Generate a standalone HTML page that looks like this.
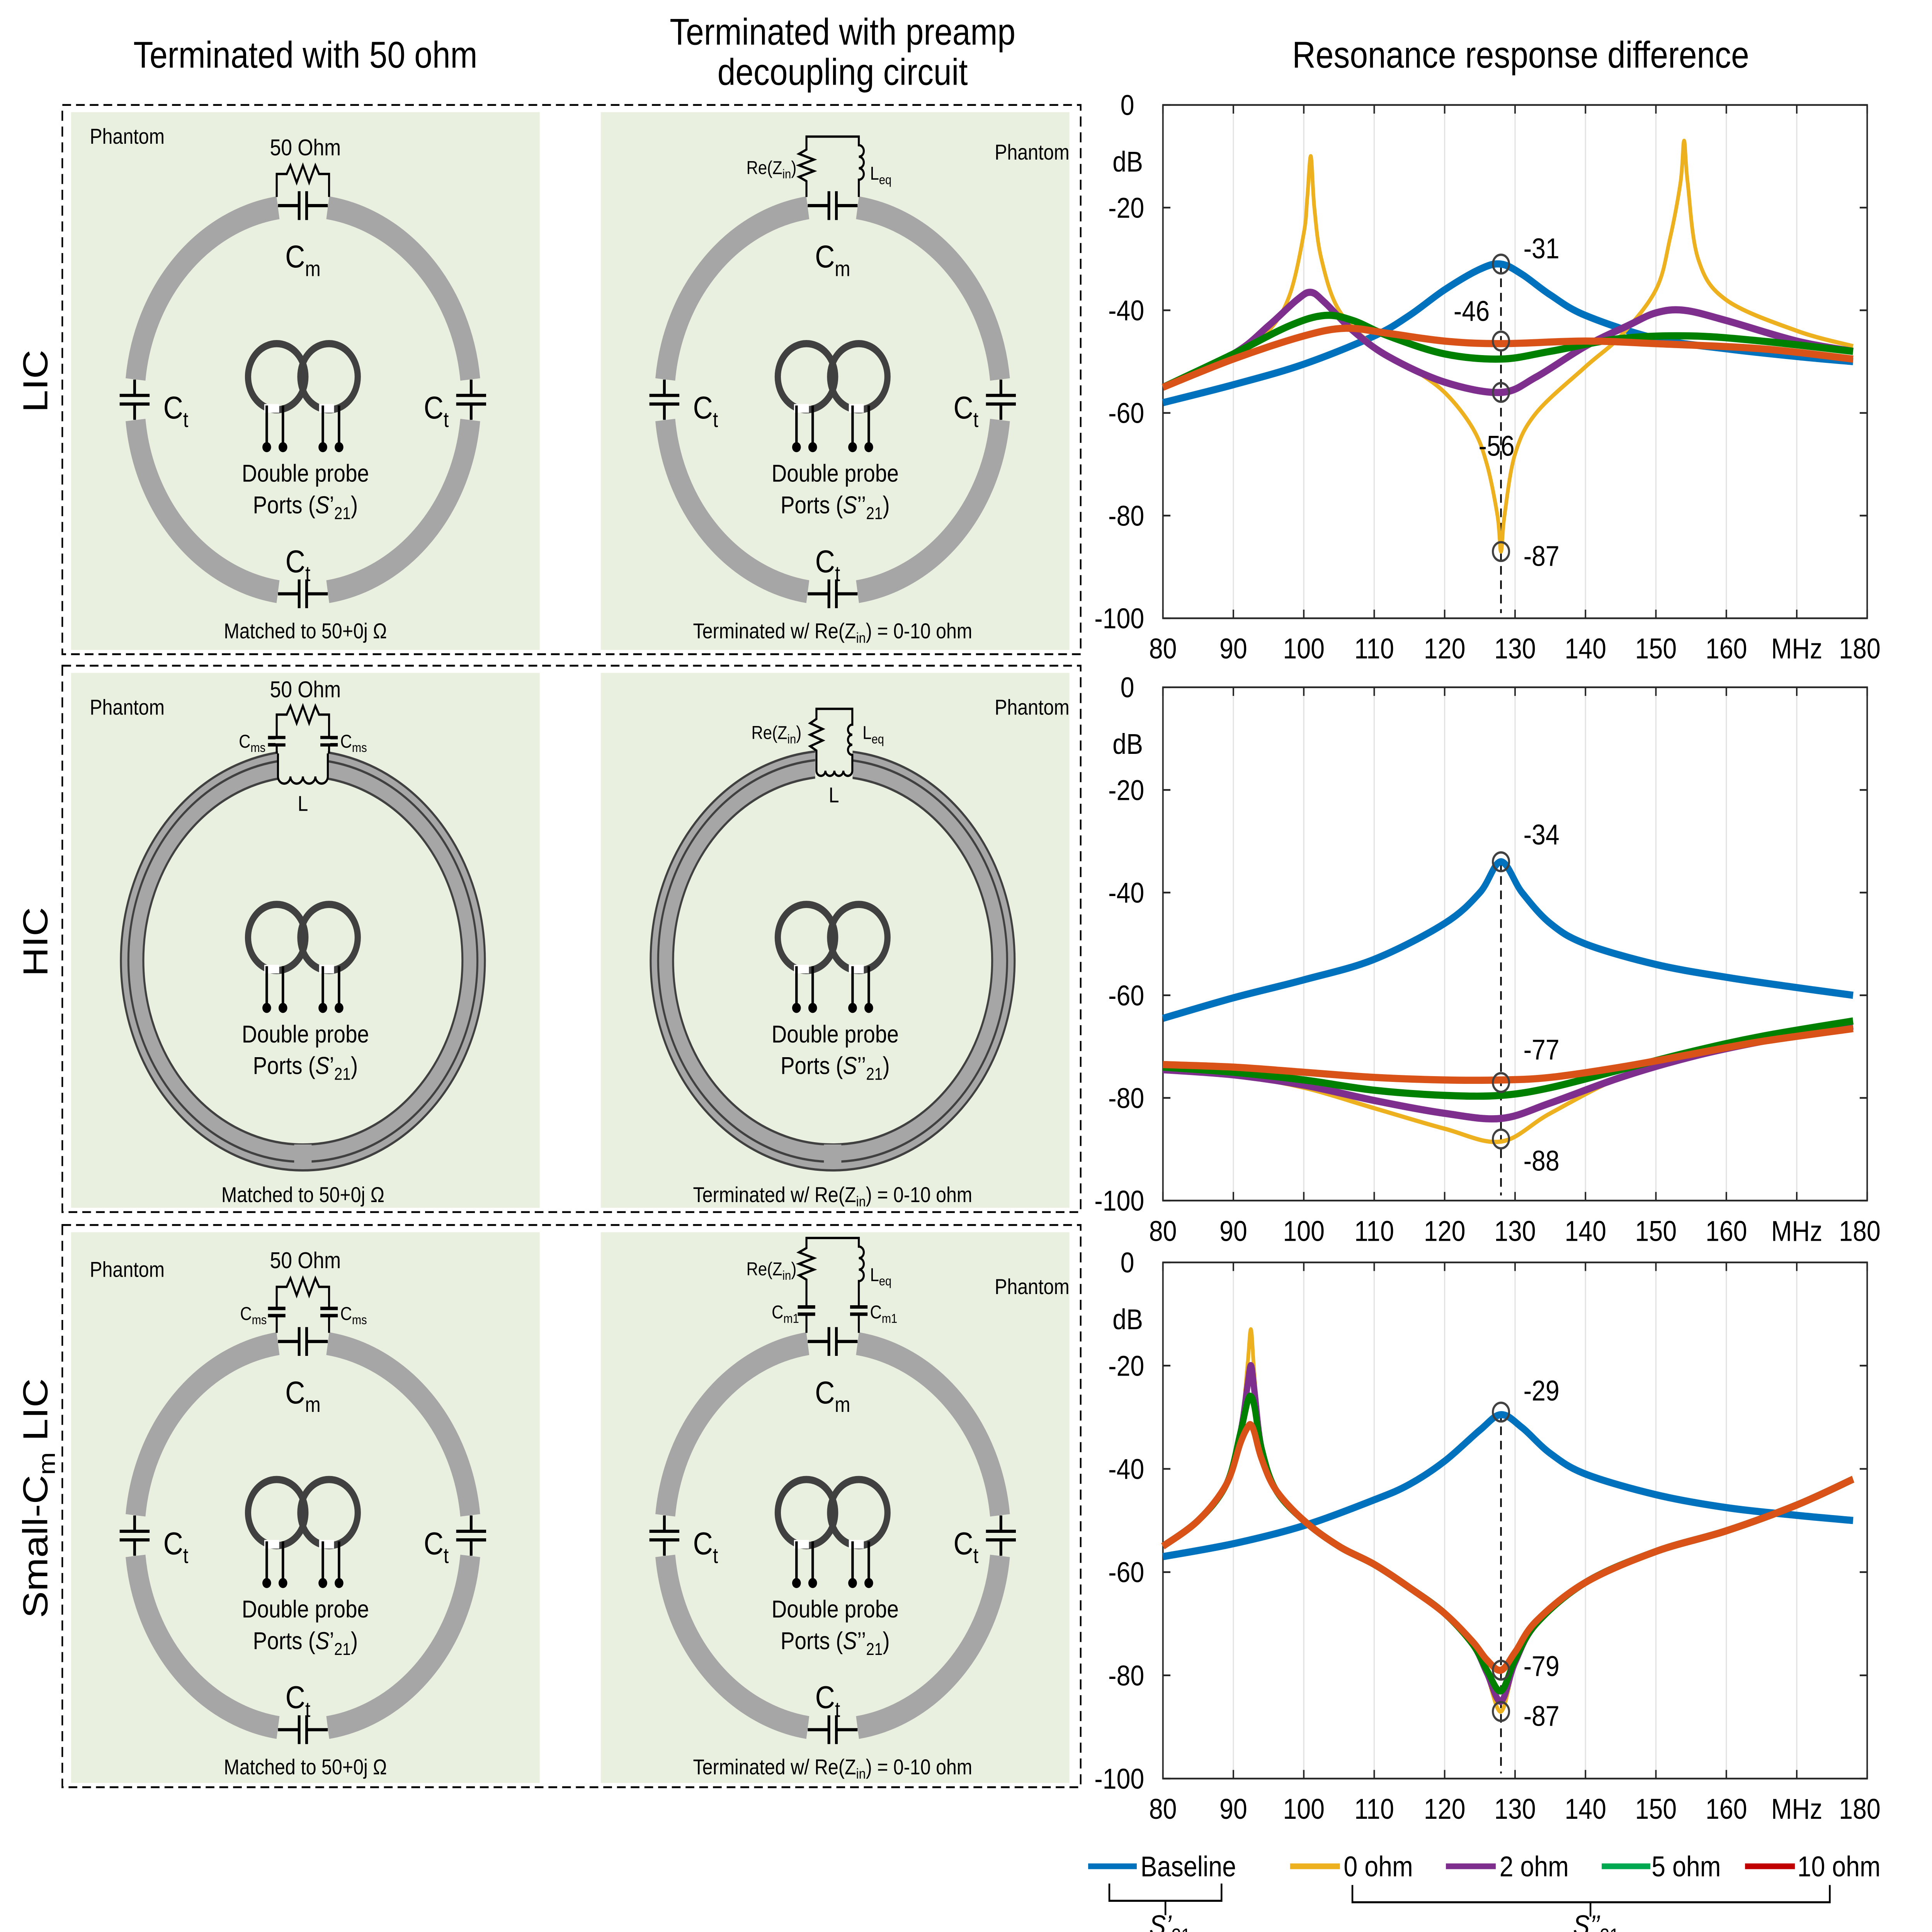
<!DOCTYPE html>
<html><head><meta charset="utf-8"><style>
html,body{margin:0;padding:0;background:#fff;width:100%;height:100%;overflow:hidden}
svg{display:block;width:100vw;height:100vh}
text{font-family:"Liberation Sans",Arial,sans-serif;fill:#000}
</style></head><body>
<svg id="fig" xmlns="http://www.w3.org/2000/svg" viewBox="0 0 1550 1343.7" preserveAspectRatio="none">
<rect x="0" y="0" width="1550" height="1344" fill="#fff"/>
<text x="245" y="47" font-size="26" text-anchor="middle">Terminated with 50 ohm</text>
<text x="676" y="31" font-size="26" text-anchor="middle">Terminated with preamp</text>
<text x="676" y="59" font-size="26" text-anchor="middle">decoupling circuit</text>
<text x="1220" y="47" font-size="26" text-anchor="middle">Resonance response difference</text>
<text transform="translate(38,265) rotate(-90)" font-size="28" text-anchor="middle">LIC</text>
<text transform="translate(38,655) rotate(-90)" font-size="28" text-anchor="middle">HIC</text>
<text transform="translate(38,1042) rotate(-90)" font-size="28" text-anchor="middle">Small-C<tspan font-size="19" dy="6">m</tspan><tspan dy="-6"> LIC</tspan></text>

<g fill="none" stroke="#000" stroke-width="1.3" stroke-dasharray="7,4">
<rect x="50" y="73" width="817" height="382"/>
<rect x="50" y="463" width="817" height="380"/>
<rect x="50" y="852" width="817" height="391"/>
</g>
<g fill="#eaf0df">
<rect x="57" y="78" width="376" height="374"/>
<rect x="482" y="78" width="376" height="374"/>
<rect x="57" y="468" width="376" height="372"/>
<rect x="482" y="468" width="376" height="372"/>
<rect x="57" y="857" width="376" height="383"/>
<rect x="482" y="857" width="376" height="383"/>
</g>
<g font-size="15">
<text x="72" y="100">Phantom</text>
<text x="858" y="111" text-anchor="end">Phantom</text>
<text x="72" y="497">Phantom</text>
<text x="858" y="497" text-anchor="end">Phantom</text>
<text x="72" y="888">Phantom</text>
<text x="858" y="900" text-anchor="end">Phantom</text>
<text x="245" y="444" text-anchor="middle">Matched to 50+0j Ω</text>
<text x="668" y="444" text-anchor="middle">Terminated w/ Re(Z<tspan font-size="10" dy="3">in</tspan><tspan dy="-3">) = 0-10 ohm</tspan></text>
<text x="243" y="836" text-anchor="middle">Matched to 50+0j Ω</text>
<text x="668" y="836" text-anchor="middle">Terminated w/ Re(Z<tspan font-size="10" dy="3">in</tspan><tspan dy="-3">) = 0-10 ohm</tspan></text>
<text x="245" y="1234" text-anchor="middle">Matched to 50+0j Ω</text>
<text x="668" y="1234" text-anchor="middle">Terminated w/ Re(Z<tspan font-size="10" dy="3">in</tspan><tspan dy="-3">) = 0-10 ohm</tspan></text>
</g>

<g id="licring" transform="translate(243,278)">
 <g fill="none" stroke="#a6a6a6" stroke-width="16">
  <path d="M19.95 -133.5 A135 135 0 0 1 134.26 -14.11"/>
  <path d="M134.26 14.11 A135 135 0 0 1 19.95 133.5"/>
  <path d="M-19.95 133.5 A135 135 0 0 1 -134.26 14.11"/>
  <path d="M-134.26 -14.11 A135 135 0 0 1 -19.95 -133.5"/>
 </g>
 <g stroke="#000" stroke-width="2.2" fill="none">
  <path d="M-20 -135H-3M3 -135H20M-3 -145V-125M3 -145V-125"/>
  <path d="M-20 135H-3M3 135H20M-3 125V145M3 125V145"/>
  <path d="M-135 -14V-3M-135 3V14M-147 -3H-123M-147 3H-123"/>
  <path d="M135 -14V-3M135 3V14M147 -3H123M147 3H123"/>
 </g>
 <text x="0" y="-92" font-size="22" text-anchor="middle">C<tspan font-size="15" dy="6">m</tspan></text>
 <text x="-112" y="13" font-size="22">C<tspan font-size="15" dy="6">t</tspan></text>
 <text x="117" y="13" font-size="22" text-anchor="end">C<tspan font-size="15" dy="6">t</tspan></text>
 <text x="-4" y="120" font-size="22" text-anchor="middle">C<tspan font-size="15" dy="6">t</tspan></text>
</g>
<g id="probe" transform="translate(243,278)">
 <circle cx="-21" cy="-16" r="23" fill="none" stroke="#404040" stroke-width="5"/>
 <circle cx="21" cy="-16" r="23" fill="none" stroke="#404040" stroke-width="5"/>
 <rect x="-31" y="3" width="12" height="6" fill="#fff"/>
 <rect x="13" y="3" width="12" height="6" fill="#fff"/>
 <path d="M-29 4V32M-16 4V32M16 4V32M29 4V32" stroke="#000" stroke-width="2"/>
 <g fill="#000"><circle cx="-29" cy="33" r="3.5"/><circle cx="-16" cy="33" r="3.5"/><circle cx="16" cy="33" r="3.5"/><circle cx="29" cy="33" r="3.5"/></g>
 <text x="2" y="57" font-size="17" text-anchor="middle">Double probe</text>
 <text class="ports" x="2" y="79" font-size="17" text-anchor="middle">Ports (<tspan font-style="italic">S</tspan>’<tspan font-size="12" dy="4">21</tspan><tspan dy="-4">)</tspan></text>
</g>
<g id="hicring" transform="translate(243,668)">
 <circle r="137" fill="none" stroke="#a6a6a6" stroke-width="18"/>
 <circle r="146" fill="none" stroke="#404040" stroke-width="1.6"/>
 <circle r="140" fill="none" stroke="#404040" stroke-width="1.6"/>
 <circle r="128" fill="none" stroke="#404040" stroke-width="1.6"/>
 <rect x="-7" y="128" width="14" height="13" fill="#a6a6a6"/>
</g>

<g transform="translate(243,278)">
 <path d="M-21 -141V-157H-13L-10 -163L-5 -151L0 -163L5 -151L10 -163L13 -157H21V-141" fill="none" stroke="#000" stroke-width="1.6"/>
 <text x="2" y="-170" font-size="16" text-anchor="middle">50 Ohm</text>
</g>
<g transform="translate(668,278)">
 <path d="M-21 -141V-152L-27 -155L-15 -159L-27 -163L-15 -167L-27 -171L-21 -174V-183H21V-177a4 4 0 0 1 0 8a4 4 0 0 1 0 8a4 4 0 0 1 0 8V-141" fill="none" stroke="#000" stroke-width="1.6"/>
 <text x="-29" y="-157" font-size="13" text-anchor="end">Re(Z<tspan font-size="9" dy="3">in</tspan><tspan dy="-3">)</tspan></text>
 <text x="30" y="-153" font-size="13">L<tspan font-size="9" dy="3">eq</tspan></text>
</g>
<g transform="translate(243,668)">
 <rect x="-20" y="-150" width="40" height="26" fill="#eaf0df"/>
 <path d="M-20 -128a5 5 0 0 0 10 0a5 5 0 0 0 10 0a5 5 0 0 0 10 0a5 5 0 0 0 10 0M-20 -128V-144M20 -128V-144M-21 -144V-171H-13L-10 -177L-5 -165L0 -177L5 -165L10 -177L13 -171H21V-144" fill="none" stroke="#000" stroke-width="1.6"/>
 <path d="M-28 -155H-14M-28 -150H-14M14 -155H28M14 -150H28" stroke="#000" stroke-width="2.4"/>
 <rect x="-22" y="-154" width="44" height="3" fill="#eaf0df"/>
 <text x="2" y="-183" font-size="16" text-anchor="middle">50 Ohm</text>
 <text x="-30" y="-148" font-size="13" text-anchor="end">C<tspan font-size="9" dy="3">ms</tspan></text>
 <text x="30" y="-148" font-size="13">C<tspan font-size="9" dy="3">ms</tspan></text>
 <text x="0" y="-104" font-size="15" text-anchor="middle">L</text>
</g>
<g transform="translate(668,668)">
 <rect x="-14" y="-150" width="30" height="24" fill="#eaf0df"/>
 <path d="M-13 -132a3.6 3.6 0 0 0 7.2 0a3.6 3.6 0 0 0 7.2 0a3.6 3.6 0 0 0 7.2 0a3.6 3.6 0 0 0 7.2 0V-143a3.5 3.5 0 0 1 0 -7a3.5 3.5 0 0 1 0 -7a3.5 3.5 0 0 1 0 -7V-175H-13V-168L-18 -165L-8 -161L-18 -157L-8 -153L-18 -149L-13 -146V-132" fill="none" stroke="#000" stroke-width="1.6"/>
 <text x="-25" y="-154" font-size="13" text-anchor="end">Re(Z<tspan font-size="9" dy="3">in</tspan><tspan dy="-3">)</tspan></text>
 <text x="24" y="-154" font-size="13">L<tspan font-size="9" dy="3">eq</tspan></text>
 <text x="1" y="-110" font-size="15" text-anchor="middle">L</text>
</g>
<g transform="translate(243,1068)">
 <path d="M-21 -141V-173H-13L-10 -179L-5 -167L0 -179L5 -167L10 -179L13 -173H21V-141" fill="none" stroke="#000" stroke-width="1.6"/>
 <rect x="-24" y="-157" width="48" height="4" fill="#eaf0df"/>
 <path d="M-28 -158H-14M-28 -153H-14M14 -158H28M14 -153H28" stroke="#000" stroke-width="2.4"/>
 <text x="2" y="-186" font-size="16" text-anchor="middle">50 Ohm</text>
 <text x="-29" y="-150" font-size="13" text-anchor="end">C<tspan font-size="9" dy="3">ms</tspan></text>
 <text x="30" y="-150" font-size="13">C<tspan font-size="9" dy="3">ms</tspan></text>
</g>
<g transform="translate(668,1068)">
 <path d="M-21 -141V-178L-27 -181L-15 -185L-27 -189L-15 -193L-27 -197L-21 -200V-207H21V-201a4 4 0 0 1 0 8a4 4 0 0 1 0 8a4 4 0 0 1 0 8V-141" fill="none" stroke="#000" stroke-width="1.6"/>
 <rect x="-24" y="-158" width="48" height="4" fill="#eaf0df"/>
 <path d="M-28 -159H-14M-28 -154H-14M14 -159H28M14 -154H28" stroke="#000" stroke-width="2.4"/>
 <text x="-29" y="-181" font-size="13" text-anchor="end">Re(Z<tspan font-size="9" dy="3">in</tspan><tspan dy="-3">)</tspan></text>
 <text x="30" y="-177" font-size="13">L<tspan font-size="9" dy="3">eq</tspan></text>
 <text x="-27" y="-151" font-size="13" text-anchor="end">C<tspan font-size="9" dy="3">m1</tspan></text>
 <text x="30" y="-151" font-size="13">C<tspan font-size="9" dy="3">m1</tspan></text>
</g>

<g id="charts"></g>

<g font-size="20">
 <line x1="873" y1="1298" x2="912" y2="1298" stroke="#0072BD" stroke-width="4"/>
 <text x="915" y="1305">Baseline</text>
 <line x1="1035" y1="1298" x2="1075" y2="1298" stroke="#EDB120" stroke-width="4"/>
 <text x="1078" y="1305">0 ohm</text>
 <line x1="1160" y1="1298" x2="1200" y2="1298" stroke="#7E2F8E" stroke-width="4"/>
 <text x="1203" y="1305">2 ohm</text>
 <line x1="1285" y1="1298" x2="1324" y2="1298" stroke="#00A84F" stroke-width="4"/>
 <text x="1325" y="1305">5 ohm</text>
 <line x1="1400" y1="1298" x2="1440" y2="1298" stroke="#C00000" stroke-width="4"/>
 <text x="1442" y="1305">10 ohm</text>
 <path d="M890 1310V1322H980V1310M935 1322V1332" fill="none" stroke="#000" stroke-width="1.4"/>
 <path d="M1085 1311V1323H1468V1311M1276 1323V1333" fill="none" stroke="#000" stroke-width="1.4"/>
 <text x="922" y="1346" font-style="italic">S’<tspan font-style="normal" font-size="14" dy="5">21</tspan></text>
 <text x="1262" y="1346" font-style="italic">S’’<tspan font-style="normal" font-size="14" dy="5">21</tspan></text>
</g>
</svg>
<script>
// ---------- chart data ----------
const xTicks = [80, 90, 100, 110, 120, 130, 140, 150, 160, 170, 180];
const xTickLabels = ['80', '90', '100', '110', '120', '130', '140', '150', '160', 'MHz', '180'];
const yTicks = [0, -20, -40, -60, -80, -100];
const yTickLabels = ['0', '-20', '-40', '-60', '-80', '-100'];
const seriesNames = ['Baseline', '0 ohm', '2 ohm', '5 ohm', '10 ohm'];
const markerFreq = 128;

// Chart 1 (LIC)
const c1BaseF = [80, 90, 100, 110, 115, 120, 125, 128, 131, 135, 140, 150, 160, 170, 178];
const c1BaseV = [-58, -54.5, -50.5, -45, -41, -36, -32, -31, -33, -37, -41, -45.5, -47.5, -49, -50];
const c1Z0F = [80, 90, 95, 98, 100, 100.5, 101, 101.5, 102.5, 105, 110, 115, 120, 124, 126, 127.5, 128, 128.5, 130, 133, 140, 145, 150, 152, 153.5, 154, 154.5, 156, 160, 170, 178];
const c1Z0V = [-55, -49, -44, -37, -25, -18, -10, -20, -30, -40, -47, -51, -56, -63, -70, -80, -87, -80, -68, -60, -51, -45, -36, -26, -15, -7, -15, -30, -38, -44, -47];
const c1Z2F = [80, 90, 95, 99, 101, 103, 107, 112, 120, 128, 133, 140, 146, 150, 154, 160, 170, 178];
const c1Z2V = [-55, -48.5, -43, -38, -36.5, -38.5, -44, -49, -54, -56, -53, -47, -43, -40.5, -40, -42, -46, -48];
const c1Z5F = [80, 90, 98, 103, 107, 112, 120, 128, 135, 145, 155, 165, 178];
const c1Z5V = [-55, -48.5, -43, -41, -42, -45, -48.5, -49.5, -48, -45.5, -45, -46, -48];
const c1Z10F = [80, 90, 100, 106, 112, 120, 128, 140, 150, 165, 178];
const c1Z10V = [-55, -49.5, -45, -43.5, -44.5, -46, -46.5, -46, -46.5, -47.5, -49.5];
const c1Markers = [-31, -46, -56, -87];

// Chart 2 (HIC)
const c2BaseF = [80, 90, 100, 110, 120, 125, 128, 131, 135, 140, 150, 160, 170, 178];
const c2BaseV = [-64.5, -60.5, -57, -53, -46, -40, -34, -40, -46, -50, -54, -56.5, -58.5, -60];
const c2Z0F = [80, 90, 100, 110, 120, 128, 135, 145, 155, 165, 178];
const c2Z0V = [-74.5, -75.5, -78, -82, -86, -88.5, -83, -76, -72, -69, -66];
const c2Z2F = [80, 90, 100, 110, 120, 128, 135, 145, 155, 165, 178];
const c2Z2V = [-74.5, -75.5, -77.5, -80.5, -83, -84, -81, -76, -72, -69, -66];
const c2Z5F = [80, 90, 100, 110, 120, 128, 135, 145, 155, 165, 178];
const c2Z5V = [-74, -75, -76.5, -78.5, -79.5, -79.5, -78, -74.5, -71, -68, -65];
const c2Z10F = [80, 90, 100, 110, 120, 128, 135, 145, 155, 165, 178];
const c2Z10V = [-73.5, -74, -75, -76, -76.5, -76.5, -76, -74, -71.5, -69, -66.5];
const c2Markers = [-34, -77, -88];

// Chart 3 (Small-Cm LIC)
const c3BaseF = [80, 90, 100, 110, 115, 120, 125, 128, 131, 135, 140, 150, 160, 170, 178];
const c3BaseV = [-57, -54.5, -51, -46, -43, -38.5, -32.5, -29.5, -32, -37, -41, -45, -47.5, -49, -50];
const c3Z0F = [80, 85, 89, 91, 92, 92.5, 93, 94, 96, 100, 105, 110, 115, 120, 124, 126, 128, 130, 133, 140, 150, 160, 170, 178];
const c3Z0V = [-55, -50, -43, -33, -20, -13, -22, -36, -44, -50, -55, -58.5, -63, -68, -74, -80, -87, -78, -70, -62, -56, -52, -47, -42];
const c3Z2V = [-55, -50, -43, -33, -24, -20, -25, -36, -44, -50, -55, -58.5, -63, -68, -74, -79.5, -85, -77.5, -70, -62, -56, -52, -47, -42];
const c3Z5V = [-55, -50, -43, -33, -27, -26, -28, -36, -44, -50, -55, -58.5, -63, -68, -74, -79, -83, -77, -70, -62, -56, -52, -47, -42];
const c3Z10V = [-55, -50, -43, -35, -32, -31.5, -33, -38, -44, -50, -55, -58.5, -63, -68, -73.5, -77, -79, -75.5, -69.5, -62, -56, -52, -47, -42];
const c3Markers = [-29, -79, -87];

// ---------- styles / layout (not data) ----------
const colors = ['#0072BD', '#EDB120', '#7E2F8E', '#008000', '#D95319'];
const widths = [5, 3, 5, 5, 5];
const plotX0 = 933, plotX1 = 1498;
const chartTops = [73, 478, 878];
const chartBottoms = [430, 835, 1237];
const labelOffsets = [
  [[18, -4], [-38, -14], [-18, 44], [18, 10]],
  [[18, -12], [18, -16], [18, 22]],
  [[18, -8], [18, 4], [18, 10]]
];

const NS = 'http://www.w3.org/2000/svg';
const root = document.getElementById('charts');
function xs(f) { return plotX0 + (f - 80) / 100 * (plotX1 - plotX0); }
function mk(tag, parent) { const e = document.createElementNS(NS, tag); parent.appendChild(e); return e; }
// smooth path through points (Catmull-Rom, tension 0.5 reduced)
function smoothPath(pts) {
  let d = 'M' + pts[0][0].toFixed(2) + ' ' + pts[0][1].toFixed(2);
  for (let i = 0; i < pts.length - 1; i++) {
    const p0 = pts[Math.max(0, i - 1)], p1 = pts[i], p2 = pts[i + 1], p3 = pts[Math.min(pts.length - 1, i + 2)];
    const k = 6;
    let c1x = p1[0] + (p2[0] - p0[0]) / k, c1y = p1[1] + (p2[1] - p0[1]) / k;
    let c2x = p2[0] - (p3[0] - p1[0]) / k, c2y = p2[1] - (p3[1] - p1[1]) / k;
    c1x = Math.min(Math.max(c1x, p1[0]), p2[0]); c2x = Math.min(Math.max(c2x, p1[0]), p2[0]);
    d += 'C' + c1x.toFixed(2) + ' ' + c1y.toFixed(2) + ' ' + c2x.toFixed(2) + ' ' + c2y.toFixed(2) + ' ' + p2[0].toFixed(2) + ' ' + p2[1].toFixed(2);
  }
  return d;
}

function drawChart(ci, series, markers) {
  const top = chartTops[ci], bot = chartBottoms[ci];
  const ys = v => top + (0 - v) / 100 * (bot - top);
  const g = mk('g', root);
  
  
  xTicks.forEach((t, i) => {
    if (i === 0 || i === xTicks.length - 1) return;
    const l = mk('line', g);
    
    
    l.setAttribute('x1', xs(t)); l.setAttribute('x2', xs(t));
    l.setAttribute('y1', top); l.setAttribute('y2', bot);
    l.setAttribute('stroke', '#e3e3e3'); l.setAttribute('stroke-width', '1');
  });
  const box = mk('rect', g);
  
  
  box.setAttribute('x', plotX0); box.setAttribute('y', top);
  box.setAttribute('width', plotX1 - plotX0); box.setAttribute('height', bot - top);
  box.setAttribute('fill', 'none'); box.setAttribute('stroke', '#262626'); box.setAttribute('stroke-width', '1.2');
  xTicks.forEach((t, i) => {
    const tk = mk('path', g);
    
    
    tk.setAttribute('d', 'M' + xs(t) + ' ' + bot + 'v-6M' + xs(t) + ' ' + top + 'v6');
    tk.setAttribute('stroke', '#262626'); tk.setAttribute('stroke-width', '1.2');
    const tx = mk('text', g);
    
    
    tx.setAttribute('x', xs(t) + (i === xTicks.length - 1 ? -6 : 0)); tx.setAttribute('y', bot + 28);
    tx.setAttribute('font-size', '20'); tx.setAttribute('text-anchor', 'middle');
    tx.textContent = xTickLabels[i];
  });
  yTicks.forEach((t, i) => {
    const tk = mk('path', g);
    
    
    tk.setAttribute('d', 'M' + plotX0 + ' ' + ys(t) + 'h6M' + plotX1 + ' ' + ys(t) + 'h-6');
    tk.setAttribute('stroke', '#262626'); tk.setAttribute('stroke-width', '1.2');
    const tx = mk('text', g);
    
    
    tx.setAttribute('x', i === 0 ? 910 : 918); tx.setAttribute('y', ys(t) + 7);
    tx.setAttribute('font-size', '20'); tx.setAttribute('text-anchor', 'end');
    tx.textContent = yTickLabels[i];
  });
  const ut = mk('text', g);
  
  
  ut.setAttribute('x', 917); ut.setAttribute('y', ys(-11) + 7);
  ut.setAttribute('font-size', '20'); ut.setAttribute('text-anchor', 'end');
  ut.textContent = 'dB';
  const mx = xs(markerFreq);
  const dl = mk('line', g);
  
  
  dl.setAttribute('x1', mx); dl.setAttribute('x2', mx);
  dl.setAttribute('y1', ys(Math.max.apply(null, markers))); dl.setAttribute('y2', ys(-99));
  dl.setAttribute('stroke', '#000'); dl.setAttribute('stroke-width', '1.3'); dl.setAttribute('stroke-dasharray', '6,4');
  series.forEach((s, k) => {
    const pts = s[0].map((f, j) => [xs(f), ys(s[1][j])]);
    const p = mk('path', g);
    
    
    p.setAttribute('d', smoothPath(pts)); p.setAttribute('fill', 'none');
    p.setAttribute('stroke', colors[k]); p.setAttribute('stroke-width', widths[k]);
    p.setAttribute('stroke-linejoin', 'round');
  });
  markers.forEach((v, k) => {
    const c = mk('circle', g);
    
    
    c.setAttribute('cx', mx); c.setAttribute('cy', ys(v)); c.setAttribute('r', '6.5');
    c.setAttribute('fill', 'none'); c.setAttribute('stroke', '#404040'); c.setAttribute('stroke-width', '1.6');
    const t = mk('text', g);
    
    
    t.setAttribute('x', mx + labelOffsets[ci][k][0]); t.setAttribute('y', ys(v) + labelOffsets[ci][k][1]);
    t.setAttribute('font-size', '20');
    t.textContent = String(v);
  });
}
drawChart(0, [[c1BaseF, c1BaseV], [c1Z0F, c1Z0V], [c1Z2F, c1Z2V], [c1Z5F, c1Z5V], [c1Z10F, c1Z10V]], c1Markers);
drawChart(1, [[c2BaseF, c2BaseV], [c2Z0F, c2Z0V], [c2Z2F, c2Z2V], [c2Z5F, c2Z5V], [c2Z10F, c2Z10V]], c2Markers);
drawChart(2, [[c3BaseF, c3BaseV], [c3Z0F, c3Z0V], [c3Z0F, c3Z2V], [c3Z0F, c3Z5V], [c3Z0F, c3Z10V]], c3Markers);

const svg = document.getElementById('fig');
const lic = document.getElementById('licring');
const probe = document.getElementById('probe');
const hic = document.getElementById('hicring');
[[668, 278], [243, 1068], [668, 1068]].forEach(p => {
  const c = lic.cloneNode(true); c.removeAttribute('id');
  c.setAttribute('transform', 'translate(' + p[0] + ',' + p[1] + ')');
  svg.insertBefore(c, probe);
});
const hc = hic.cloneNode(true); hc.removeAttribute('id');
hc.setAttribute('transform', 'translate(668,668)');
svg.insertBefore(hc, probe);
[[668, 278, 2], [243, 668, 1], [668, 668, 2], [243, 1068, 1], [668, 1068, 2]].forEach(p => {
  const c = probe.cloneNode(true); c.removeAttribute('id');
  c.setAttribute('transform', 'translate(' + p[0] + ',' + p[1] + ')');
  if (p[2] === 2) {
    const t = c.querySelector('.ports');
    t.innerHTML = 'Ports (<tspan font-style="italic">S</tspan>’’<tspan font-size="12" dy="4">21</tspan><tspan dy="-4">)</tspan>';
  }
  svg.insertBefore(c, document.getElementById('charts'));
});
</script>
</body></html>
